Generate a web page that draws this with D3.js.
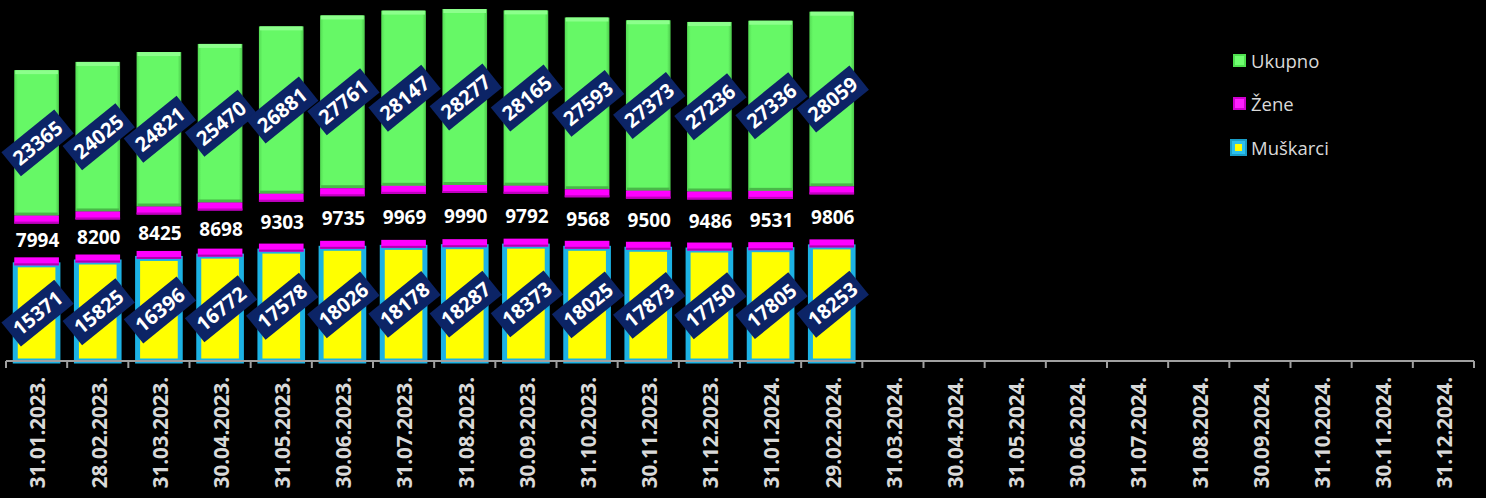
<!DOCTYPE html>
<html>
<head>
<meta charset="utf-8">
<script src="https://cdn.jsdelivr.net/npm/d3@7"></script>
<style>
  html, body { margin: 0; padding: 0; background: #000; }
  svg { display: block; }
</style>
</head>
<body>
<script>
const categories = ["31.01.2023.","28.02.2023.","31.03.2023.","30.04.2023.","31.05.2023.","30.06.2023.","31.07.2023.","31.08.2023.","30.09.2023.","31.10.2023.","30.11.2023.","31.12.2023.","31.01.2024.","29.02.2024.","31.03.2024.","30.04.2024.","31.05.2024.","30.06.2024.","31.07.2024.","31.08.2024.","30.09.2024.","31.10.2024.","30.11.2024.","31.12.2024."];
const muskarci = [15371,15825,16396,16772,17578,18026,18178,18287,18373,18025,17873,17750,17805,18253];
const zene     = [7994,8200,8425,8698,9303,9735,9969,9990,9792,9568,9500,9486,9531,9806];
const ukupno   = [23365,24025,24821,25470,26881,27761,28147,28277,28165,27593,27373,27236,27336,28059];
const seriesNames = ["Ukupno","Žene","Muškarci"];

const W = 1486, H = 498;
const svg = d3.select("body").append("svg").attr("width", W).attr("height", H);
svg.append("rect").attr("width", W).attr("height", H).attr("fill", "#000");

const x = d3.scaleBand().domain(categories).range([6, 1474]).paddingInner(0.27).paddingOuter(0.135);
const y = d3.scaleLinear().domain([0, 58000]).range([361, 0]);

const FONT = "'Open Sans', 'DejaVu Sans', sans-serif";

const data = muskarci.map((m, i) => {
  const z = zene[i], u = ukupno[i];
  return { cat: categories[i], m, z, u, y0: 0, y1: m, y2: m + z, y3: m + z + u };
});

// gradients
const defs = svg.append("defs");
const gGreen = defs.append("linearGradient").attr("id", "gGreen").attr("x1", 0).attr("x2", 1);
gGreen.append("stop").attr("offset", "0").attr("stop-color", "#54dc54");
gGreen.append("stop").attr("offset", "0.08").attr("stop-color", "#66f866");
gGreen.append("stop").attr("offset", "0.92").attr("stop-color", "#66f866");
gGreen.append("stop").attr("offset", "1").attr("stop-color", "#4cc84c");

const bw = x.bandwidth();
const g = svg.append("g");

// Ukupno (green)
g.selectAll("rect.uk").data(data).join("rect").attr("class", "uk")
  .attr("x", d => x(d.cat)).attr("width", bw)
  .attr("y", d => y(d.y3)).attr("height", d => y(d.y2) - y(d.y3))
  .attr("fill", "url(#gGreen)");
g.selectAll("rect.ukTop").data(data).join("rect").attr("class", "ukTop")
  .attr("x", d => x(d.cat) + 1).attr("width", bw - 2)
  .attr("y", d => y(d.y3)).attr("height", 4)
  .attr("fill", "#8cff8c");
g.selectAll("rect.ukBot").data(data).join("rect").attr("class", "ukBot")
  .attr("x", d => x(d.cat) + 1).attr("width", bw - 2)
  .attr("y", d => y(d.y2) - 3).attr("height", 3)
  .attr("fill", "#48b848");

// Muškarci (yellow with cyan frame)
const sw = 5;
g.selectAll("rect.mu").data(data).join("rect").attr("class", "mu")
  .attr("x", d => x(d.cat) - 1.5 + sw / 2).attr("width", bw + 3 - sw)
  .attr("y", d => y(d.y1) - 3 + sw / 2).attr("height", d => y(d.y0) - y(d.y1) + 3 - sw / 2)
  .attr("fill", "#ffff00").attr("stroke", "#1cb2e4").attr("stroke-width", sw);

// Žene (magenta bevel strips, dark middle)
g.selectAll("rect.zeTop").data(data).join("rect").attr("class", "zeTop")
  .attr("x", d => x(d.cat)).attr("width", bw)
  .attr("y", d => y(d.y2)).attr("height", 8)
  .attr("fill", "#ff00ff");
g.selectAll("rect.zeTopEdge").data(data).join("rect").attr("class", "zeTopEdge")
  .attr("x", d => x(d.cat)).attr("width", bw)
  .attr("y", d => y(d.y2) + 6).attr("height", 2)
  .attr("fill", "#c000c0");
g.selectAll("rect.zeBot").data(data).join("rect").attr("class", "zeBot")
  .attr("x", d => x(d.cat)).attr("width", bw)
  .attr("y", d => y(d.y1) - 8).attr("height", 8)
  .attr("fill", "#ff00ff");
g.selectAll("rect.zeBotEdge").data(data).join("rect").attr("class", "zeBotEdge")
  .attr("x", d => x(d.cat)).attr("width", bw)
  .attr("y", d => y(d.y1) - 2).attr("height", 2)
  .attr("fill", "#b000b0");

// Žene labels
g.selectAll("text.zeL").data(data).join("text").attr("class", "zeL")
  .attr("x", d => x(d.cat) + bw / 2 + 1)
  .attr("y", d => (y(d.y1) + y(d.y2)) / 2)
  .attr("dy", "0.36em")
  .attr("text-anchor", "middle")
  .attr("fill", "#ffffff").attr("font-family", FONT).attr("font-weight", "bold").attr("font-size", 19)
  .text(d => d.z);

// rotated boxed labels
function boxLabel(sel, cls, getY, getV) {
  const lg = sel.selectAll("g." + cls).data(data).join("g").attr("class", cls)
    .attr("transform", d => `translate(${x(d.cat) + bw / 2 + 1},${getY(d)}) rotate(-39)`);
  lg.append("rect").attr("x", -34).attr("y", -15.5).attr("width", 68).attr("height", 31)
    .attr("fill", "#0c2466");
  lg.append("text").attr("text-anchor", "middle").attr("dy", "0.36em")
    .attr("fill", "#ffffff").attr("font-family", FONT).attr("font-weight", "bold").attr("font-size", 20)
    .text(getV);
}
boxLabel(g, "muL", d => (y(d.y0) + y(d.y1)) / 2, d => d.m);
boxLabel(g, "ukL", d => (y(d.y2) + y(d.y3)) / 2, d => d.u);

// x axis
const axis = svg.append("g").attr("transform", "translate(0,361)");
axis.append("line").attr("x1", 6).attr("x2", 1474).attr("y1", 0).attr("y2", 0)
  .attr("stroke", "#a0a0a0").attr("stroke-width", 2);
const step = x.step();
const tickXs = d3.range(categories.length + 1).map(i => 6 + i * step);
axis.selectAll("line.tk").data(tickXs).join("line").attr("class", "tk")
  .attr("x1", d => d).attr("x2", d => d).attr("y1", 0).attr("y2", 7)
  .attr("stroke", "#a0a0a0").attr("stroke-width", 2);
axis.selectAll("text.xl").data(categories).join("text").attr("class", "xl")
  .attr("transform", d => `translate(${x(d) + bw / 2 + 1.5},${377 - 361}) rotate(-90)`)
  .attr("text-anchor", "end").attr("dy", "0.36em")
  .attr("fill", "#d9d9d9").attr("font-family", FONT).attr("font-weight", "bold").attr("font-size", 20.5)
  .text(d => d);

// legend
const leg = svg.append("g");
const legY = [61, 104, 148];
// Ukupno
leg.append("rect").attr("x", 1233).attr("y", legY[0] - 7).attr("width", 13).attr("height", 13).attr("fill", "#4fe04f");
leg.append("rect").attr("x", 1235).attr("y", legY[0] - 5).attr("width", 9).attr("height", 9).attr("fill", "#70ff70");
// Žene
leg.append("rect").attr("x", 1233).attr("y", legY[1] - 7).attr("width", 13).attr("height", 13).attr("fill", "#d000d0");
leg.append("rect").attr("x", 1235).attr("y", legY[1] - 5).attr("width", 9).attr("height", 9).attr("fill", "#ff20ff");
// Muškarci
leg.append("rect").attr("x", 1230).attr("y", legY[2] - 9).attr("width", 17).attr("height", 17).attr("fill", "#1a9ec8");
leg.append("rect").attr("x", 1232).attr("y", legY[2] - 7).attr("width", 13).attr("height", 13).attr("fill", "#2cc0ee");
leg.append("rect").attr("x", 1235).attr("y", legY[2] - 4).attr("width", 7).attr("height", 7).attr("fill", "#ffff00");
leg.selectAll("text.lt").data(seriesNames).join("text").attr("class", "lt")
  .attr("x", 1251).attr("y", (d, i) => legY[i]).attr("dy", "0.36em")
  .attr("fill", "#d9d9d9").attr("font-family", FONT).attr("font-size", 18.5)
  .text(d => d);
</script>
</body>
</html>
